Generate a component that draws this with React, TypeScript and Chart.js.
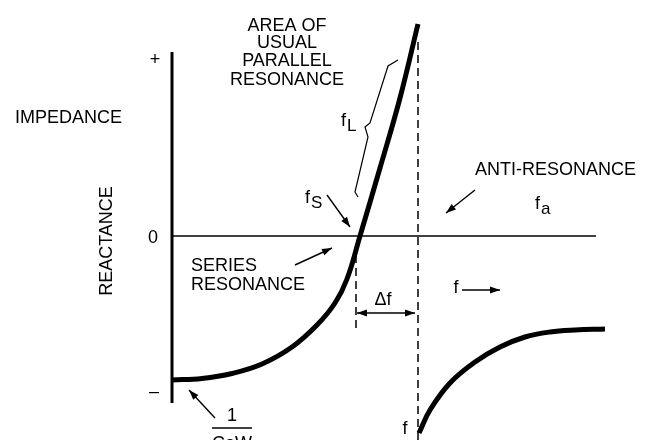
import React, { useEffect, useRef } from "react";
import { Chart, registerables } from "chart.js";
Chart.register(...registerables);

// Reactance curve of a crystal (arbitrary units: x = frequency, y = reactance)
const seriesBranchX = [0, 3, 6, 9, 12, 14.5, 16.3, 17.5, 18.8, 20.8, 22.8, 24.6];
const seriesBranchY = [-14.4, -14.25, -13.75, -12.8, -11.1, -8.9, -6.7, -4.3, 0, 6.8, 13.8, 21.2];
const antiBranchX = [24.7, 25.8, 27.8, 30.3, 32.8, 35.3, 37.8, 40.3, 43.3];
const antiBranchY = [-19.7, -17.4, -14.7, -12.6, -11.1, -10.1, -9.6, -9.4, -9.3];

// axis extents
const axisYRange = [-16.7, 18.4];
const zeroLineEnd = 42.4;
const fsMarker = 18.4;
const fsMarkerRange = [-1.9, -9.4];
const faMarker = 24.6;
const faMarkerRange = [19.4, -20.4];
const deltaFY = -7.7;

// brace for f_L
const braceX = [22.6, 21.6, 19.8, 19.3, 19.6, 18.3, 18.6];
const braceY = [17.6, 17.0, 11.3, 10.9, 9.9, 4.4, 3.9];

type Label = { text: string; x: number; y: number; align?: CanvasTextAlign; sub?: string; rotate?: boolean };
const labels: Label[] = [
  { text: "IMPEDANCE", x: -15.7, y: 11.75, align: "left" },
  { text: "REACTANCE", x: -6.45, y: -0.5, rotate: true },
  { text: "+", x: -1.7, y: 17.6 },
  { text: "0", x: -1.9, y: -0.2 },
  { text: "\u2013", x: -1.8, y: -15.6 },
  { text: "AREA OF", x: 11.5, y: 21.0 },
  { text: "USUAL", x: 11.5, y: 19.3 },
  { text: "PARALLEL", x: 11.5, y: 17.45 },
  { text: "RESONANCE", x: 11.5, y: 15.6 },
  { text: "SERIES", x: 1.9, y: -3.05, align: "left" },
  { text: "RESONANCE", x: 1.9, y: -4.9, align: "left" },
  { text: "ANTI-RESONANCE", x: 30.3, y: 6.6, align: "left" },
  { text: "f", x: 16.9, y: 11.5, align: "left", sub: "L" },
  { text: "f", x: 13.3, y: 3.8, align: "left", sub: "S" },
  { text: "f", x: 36.3, y: 3.2, align: "left", sub: "a" },
  { text: "\u0394f", x: 21.1, y: -6.4 },
  { text: "f", x: 23.3, y: -19.3 },
  { text: "f", x: 28.4, y: -5.2 },
  { text: "1", x: 6.0, y: -18.0 },
  { text: "CoW", x: 6.0, y: -20.8 },
];

type Arrow = { x1: number; y1: number; x2: number; y2: number; both?: boolean };
const arrows: Arrow[] = [
  { x1: 15.5, y1: 4.1, x2: 17.8, y2: 0.9 },
  { x1: 12.3, y1: -2.9, x2: 16.0, y2: -1.2 },
  { x1: 30.3, y1: 4.6, x2: 27.4, y2: 2.3 },
  { x1: 29.0, y1: -5.4, x2: 32.8, y2: -5.4 },
  { x1: 4.3, y1: -18.2, x2: 1.7, y2: -15.4 },
  { x1: 18.5, y1: deltaFY, x2: 24.3, y2: deltaFY, both: true },
];
const fractionBar = { x1: 4.0, x2: 8.0, y: -19.2 };

const FONT = '"Liberation Sans", Arial, sans-serif';

function pts(xs: number[], ys: number[]) {
  return xs.map((x, i) => ({ x, y: ys[i] }));
}

const annotationPlugin = {
  id: "annot",
  afterDatasetsDraw(chart: any) {
    const ctx: CanvasRenderingContext2D = chart.ctx;
    const sx = chart.scales.x;
    const sy = chart.scales.y;
    const px = (v: number) => sx.getPixelForValue(v);
    const py = (v: number) => sy.getPixelForValue(v);
    ctx.save();
    ctx.fillStyle = "#000";
    ctx.strokeStyle = "#000";
    ctx.textBaseline = "middle";
    for (const l of labels) {
      ctx.font = `18px ${FONT}`;
      const X = px(l.x);
      const Y = py(l.y);
      if (l.rotate) {
        ctx.save();
        ctx.translate(X, Y);
        ctx.rotate(-Math.PI / 2);
        ctx.textAlign = "center";
        ctx.fillText(l.text, 0, 0);
        ctx.restore();
        continue;
      }
      ctx.textAlign = l.align || "center";
      ctx.fillText(l.text, X, Y);
      if (l.sub) {
        const w = ctx.measureText(l.text).width;
        ctx.font = `17px ${FONT}`;
        ctx.textAlign = "left";
        ctx.fillText(l.sub, X + w + 1, Y + 5);
      }
    }
    // fraction bar
    ctx.lineWidth = 1.5;
    ctx.beginPath();
    ctx.moveTo(px(fractionBar.x1), py(fractionBar.y));
    ctx.lineTo(px(fractionBar.x2), py(fractionBar.y));
    ctx.stroke();
    // arrows
    const head = (x1: number, y1: number, x2: number, y2: number) => {
      const a = Math.atan2(y2 - y1, x2 - x1);
      const L = 10, W = 3.5;
      ctx.beginPath();
      ctx.moveTo(x2, y2);
      ctx.lineTo(x2 - L * Math.cos(a) + W * Math.sin(a), y2 - L * Math.sin(a) - W * Math.cos(a));
      ctx.lineTo(x2 - L * Math.cos(a) - W * Math.sin(a), y2 - L * Math.sin(a) + W * Math.cos(a));
      ctx.closePath();
      ctx.fill();
    };
    for (const a of arrows) {
      const x1 = px(a.x1), y1 = py(a.y1), x2 = px(a.x2), y2 = py(a.y2);
      ctx.lineWidth = 1.4;
      ctx.beginPath();
      ctx.moveTo(x1, y1);
      ctx.lineTo(x2, y2);
      ctx.stroke();
      head(x1, y1, x2, y2);
      if (a.both) head(x2, y2, x1, y1);
    }
    ctx.restore();
  },
};

export default function App() {
  const ref = useRef<HTMLCanvasElement>(null);
  useEffect(() => {
    if (!ref.current) return;
    const base = { showLine: true, pointRadius: 0, borderColor: "#000", fill: false, clip: false as any };
    const chart = new Chart(ref.current, {
      type: "scatter",
      data: {
        datasets: [
          { ...base, data: [{ x: 0, y: axisYRange[0] }, { x: 0, y: axisYRange[1] }], borderWidth: 3 },
          { ...base, data: [{ x: 0, y: 0 }, { x: zeroLineEnd, y: 0 }], borderWidth: 1.4 },
          { ...base, data: [{ x: faMarker, y: faMarkerRange[0] }, { x: faMarker, y: faMarkerRange[1] }], borderWidth: 1.5, borderDash: [8, 5] },
          { ...base, data: [{ x: fsMarker, y: fsMarkerRange[0] }, { x: fsMarker, y: fsMarkerRange[1] }], borderWidth: 1.5, borderDash: [8, 5] },
          { ...base, data: pts(braceX, braceY), borderWidth: 1.2 },
          { ...base, data: pts(seriesBranchX, seriesBranchY), borderWidth: 5, tension: 0.4 },
          { ...base, data: pts(antiBranchX, antiBranchY), borderWidth: 5, tension: 0.4 },
        ] as any,
      },
      options: {
        responsive: false,
        animation: false,
        devicePixelRatio: 1,
        layout: { padding: 0, autoPadding: false } as any,
        plugins: { legend: { display: false }, tooltip: { enabled: false } },
        events: [],
        scales: {
          x: { type: "linear", min: -17.2, max: 47.7, display: false },
          y: { type: "linear", min: -20.4, max: 23.6, display: false },
        },
      },
      plugins: [annotationPlugin],
    });
    return () => chart.destroy();
  }, []);
  return (
    <div style={{ position: "absolute", left: 0, top: 0, width: 649, height: 440, background: "#fff" }}>
      <canvas ref={ref} width={649} height={440} style={{ display: "block" }} />
    </div>
  );
}
